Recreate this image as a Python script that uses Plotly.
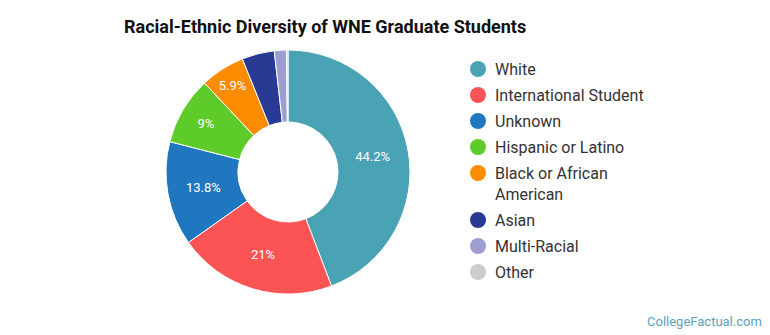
import plotly.graph_objects as go

labels = ["White", "International Student", "Unknown", "Hispanic or Latino",
          "Black or African<br>American", "Asian", "Multi-Racial", "Other"]
values = [44.2, 21.0, 13.8, 9.0, 5.9, 4.3, 1.6, 0.2]
colors = ["#4aa3b5", "#fc5454", "#1f77c0", "#5dcb2a", "#fb8c00", "#283a94", "#9e9dd0", "#cccccc"]
shown = [True, True, True, True, True, False, False, False]

texts = [f"{v:g}%" if s else "" for v, s in zip(values, shown)]

W, H = 770, 335
cx, cy, r = 288, 172, 122

fig = go.Figure(go.Pie(
    labels=labels, values=values, text=texts, textinfo="text",
    sort=False, direction="clockwise", rotation=0, hole=0.41,
    marker=dict(colors=colors, line=dict(color="white", width=1)),
    textposition="inside", insidetextorientation="horizontal",
    textfont=dict(family="Roboto, sans-serif", size=13, color="white"),
    domain=dict(x=[(cx - r) / W, (cx + r) / W], y=[(H - cy - r) / H, (H - cy + r) / H]),
    hoverinfo="label+percent", showlegend=False,
))

# custom legend (circle markers, 26px row spacing, wrapped labels take extra line)
shapes = []
annotations = []
y = 69
for lab, col in zip(labels, colors):
    nlines = lab.count("<br>") + 1
    shapes.append(dict(type="circle", xref="paper", yref="paper",
                       x0=(478 - 8) / W, x1=(478 + 8) / W,
                       y0=1 - (y + 8) / H, y1=1 - (y - 8) / H,
                       fillcolor=col, line=dict(width=0)))
    annotations.append(dict(text=lab, x=493 / W, y=1 - (y - 11) / H,
                            xref="paper", yref="paper", xanchor="left", yanchor="top",
                            align="left", showarrow=False,
                            font=dict(size=16, color="#333333", family="Roboto, sans-serif")))
    y += 26 + (nlines - 1) * 21

annotations.append(dict(text="CollegeFactual.com", x=764 / W, y=1 - 321 / H,
                        xref="paper", yref="paper", xanchor="right", yanchor="middle",
                        showarrow=False, font=dict(size=13, color="#5aa4bb", family="Roboto, sans-serif")))

fig.update_layout(
    width=W, height=H, margin=dict(l=0, r=0, t=0, b=0),
    paper_bgcolor="white", plot_bgcolor="white",
    font=dict(family="Roboto, sans-serif"),
    title=dict(text="<b>Racial-Ethnic Diversity of WNE Graduate Students</b>",
               x=124 / W, xanchor="left", xref="container",
               y=1 - 27 / H, yanchor="middle", yref="container",
               font=dict(size=18, color="#111111", family="Roboto, sans-serif")),
    showlegend=False,
    shapes=shapes,
    annotations=annotations,
)

fig.write_html("out.html")
